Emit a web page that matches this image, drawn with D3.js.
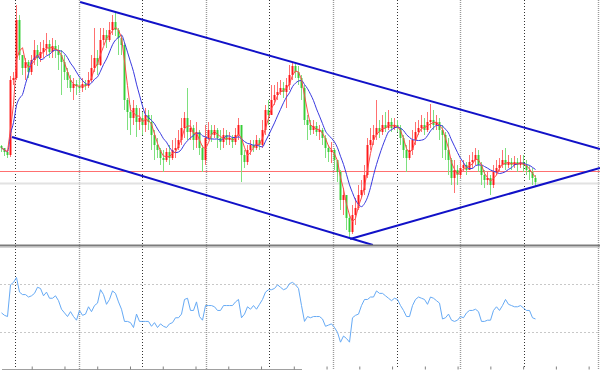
<!DOCTYPE html>
<html>
<head>
<meta charset="utf-8">
<script src="https://cdn.jsdelivr.net/npm/d3@7/dist/d3.min.js"></script>
<style>
  body { margin: 0; background: #fff; }
  svg { display: block; }
</style>
</head>
<body>
<svg id="chart" width="600" height="370"></svg>
<script>
// price data, one entry per bar (open = previous close)
const firstOpen = 104;
const closes = [102,98,95,170,172,230,195,182,188,178,190,200,192,198,202,206,198,204,200,195,
  188,178,170,162,166,164,162,166,164,170,182,192,185,210,215,210,220,228,220,212,
  205,150,138,132,142,128,132,125,135,128,115,105,100,92,90,98,92,100,102,110,
  122,132,118,122,110,118,102,90,112,120,115,120,112,108,115,110,112,108,115,125,
  95,88,100,105,102,110,105,120,140,135,150,155,158,162,158,165,175,184,178,172,
  162,130,125,120,124,118,120,112,102,98,100,90,78,50,55,32,18,35,42,55,
  60,75,105,110,115,122,118,125,122,128,122,125,122,112,100,92,100,110,118,122,
  125,120,128,130,125,128,120,115,100,90,72,80,75,82,85,80,88,90,95,85,
  75,70,72,65,78,82,85,90,85,88,85,88,85,88,85,80,78,72,68];
const highs = [105,102,100,174,178,245,235,195,192,190,195,210,205,208,210,217,210,212,210,205,
  200,195,182,175,172,170,172,172,170,178,195,222,200,222,222,220,228,235,238,222,
  215,208,152,145,150,145,142,138,142,140,135,120,112,102,100,102,105,110,112,120,
  132,138,162,130,125,128,120,105,125,128,125,125,122,120,122,120,118,115,122,132,
  122,100,105,110,110,115,112,130,145,150,165,165,168,170,168,172,185,188,186,184,
  175,165,135,130,130,128,125,122,115,105,108,102,90,80,62,55,35,45,52,65,
  70,85,112,122,125,150,130,135,138,140,132,132,130,125,115,105,110,120,128,130,
  135,132,138,146,140,135,132,125,118,112,92,90,85,90,90,88,95,98,102,100,
  88,80,78,75,85,90,92,100,102,95,92,94,92,95,95,90,85,82,75];
const lows = [98,94,92,93,165,170,190,175,170,172,175,185,184,188,192,195,192,192,192,180,
  155,170,162,158,150,155,158,158,160,162,168,178,175,184,205,202,208,215,214,195,
  195,140,120,115,125,113,120,115,118,120,100,90,92,85,78,88,85,90,92,100,
  105,112,110,110,100,102,95,78,85,110,108,112,102,100,102,105,105,102,105,110,
  68,82,85,95,98,100,100,102,115,125,140,145,150,155,152,142,160,170,172,165,
  150,125,110,115,116,114,110,105,92,88,87,80,68,40,35,20,12,16,25,40,
  52,55,72,100,105,110,112,115,118,120,118,120,118,105,92,78,90,95,105,115,
  118,115,118,122,120,120,110,92,90,75,65,57,65,72,78,75,80,82,85,78,
  65,62,65,55,62,75,78,82,80,82,80,82,78,82,78,75,70,65,64];
// RSI(14)
const rsiValues = [46,44,43,69,71,75,63,61,61,59,60,62,67,66,60,63,58,58,60,56,
  49,46,43,47,43,40,48,44,45,51,47,52,54,65,61,53,57,64,62,55,
  49,39,39,38,34,45,39,39,39,39,35,38,34,37,35,34,37,38,42,42,
  45,57,58,48,48,55,43,40,52,52,52,51,48,48,52,52,52,52,55,57,
  42,45,51,49,52,49,53,57,63,65,65,66,69,67,65,66,70,71,69,66,
  52,39,43,42,43,43,43,41,35,36,37,34,30,22,27,25,22,42,44,45,
  52,57,57,59,59,64,62,62,60,58,56,58,57,52,48,43,43,52,57,59,
  58,57,53,59,58,56,54,41,42,45,40,39,40,43,42,46,48,48,49,47,
  39,39,40,40,48,51,48,52,57,53,52,51,51,52,50,48,48,42,41];

const maFastPeriod = 3;
const maSlowPeriod = 8;
const rsiLevels = [70, 30];
// vertical period separators, in bar units
const gridBars = [4.6, 25.8, 47, 68.2, 89.3, 110.5, 131.7, 152.8, 174, 198.8];
// horizontal price lines
const priceLines = [
  { price: 78.5, color: "#ff7070", size: 1 },
  { price: 66.5, color: "#e2e2e2", size: 2 },
];
// drawn trend lines: [bar1, price1, bar2, price2]
const trendLines = [
  [26.2, 248, 199.5, 101],
  [3.5, 113, 123.8, 5],
  [116.2, 11, 199.5, 82],
];

var svg = d3.select("#chart");
var width = 600;
var mainBottom = 245;
var rsiTop = 247;
var rsiBottom = 369;

var x = d3.scaleLinear().domain([0, 100]).range([1.5, 301.5]);
var y = d3.scaleLinear().domain([0, 250]).range([250, 0]);
var yRsi = d3.scaleLinear().domain([0, 100]).range([rsiBottom, rsiTop]);

// build bars
var bars = closes.map((c, i) => {
  let o = i == 0 ? firstOpen : closes[i - 1];
  return {
    i: i,
    open: o,
    close: c,
    high: Math.max(highs[i], o, c),
    low: Math.min(lows[i], o, c),
  };
});

movingAverage = (period) => {
  return closes.map((c, i) => {
    let from = Math.max(0, i - period + 1);
    return { i: i, value: d3.mean(closes.slice(from, i + 1)) };
  });
};

svg.append("defs")
  .append("clipPath")
  .attr("id", "main-clip")
  .append("rect")
  .attr("x", 0)
  .attr("y", 0)
  .attr("width", width)
  .attr("height", mainBottom);

// grid
svg.append("g")
  .attr("class", "grid")
  .selectAll("line")
  .data(gridBars)
  .join("line")
  .attr("x1", (d) => Math.round(x(d)) + 0.5)
  .attr("x2", (d) => Math.round(x(d)) + 0.5)
  .attr("y1", 0)
  .attr("y2", rsiBottom)
  .attr("stroke", (d, i) => (i % 2 == 0 ? "#333" : "#9a9a9a"))
  .attr("stroke-width", (d, i) => (i % 2 == 0 ? 1 : 1.4))
  .attr("stroke-dasharray", (d, i) => (i % 2 == 0 ? "1,2" : "1,1"));

var main = svg.append("g").attr("clip-path", "url(#main-clip)");

// price level lines as thin filled strips
main.selectAll(".price-line")
  .data(priceLines)
  .join("rect")
  .attr("class", "price-line")
  .attr("x", 0)
  .attr("width", width)
  .attr("y", (d) => y(d.price) - d.size / 2)
  .attr("height", (d) => d.size)
  .attr("fill", (d) => d.color);

var upColor = "#ff1010";
var downColor = "#2fcb2f";

var candle = main.append("g").attr("class", "candles")
  .selectAll("g")
  .data(bars)
  .join("g");

candle.append("line")
  .attr("x1", (d) => x(d.i))
  .attr("x2", (d) => x(d.i))
  .attr("y1", (d) => y(d.high))
  .attr("y2", (d) => y(d.low))
  .attr("stroke", (d) => (d.close >= d.open ? "#ff7070" : "#7ee07e"))
  .attr("stroke-width", 1);

candle.append("rect")
  .attr("x", (d) => x(d.i) - 1)
  .attr("width", 2)
  .attr("y", (d) => y(Math.max(d.open, d.close)))
  .attr("height", (d) => Math.max(1, Math.abs(y(d.open) - y(d.close))))
  .attr("fill", (d) => (d.close >= d.open ? upColor : downColor))
  .attr("opacity", 0.9);

var maLine = d3.line()
  .x((d) => x(d.i))
  .y((d) => y(d.value));

main.append("path")
  .datum(movingAverage(maSlowPeriod))
  .attr("d", maLine.curve(d3.curveMonotoneX))
  .attr("fill", "none")
  .attr("stroke", "#3a3ae0")
  .attr("stroke-width", 1);

main.append("path")
  .datum(movingAverage(maFastPeriod))
  .attr("d", maLine.curve(d3.curveLinear))
  .attr("fill", "none")
  .attr("stroke", "#ff4a4a")
  .attr("stroke-width", 1);

main.selectAll(".trend")
  .data(trendLines)
  .join("line")
  .attr("class", "trend")
  .attr("x1", (d) => x(d[0]))
  .attr("y1", (d) => y(d[1]))
  .attr("x2", (d) => x(d[2]))
  .attr("y2", (d) => y(d[3]))
  .attr("stroke", "#1111c8")
  .attr("stroke-width", 2);

// pane separator
svg.append("line")
  .attr("x1", 0).attr("x2", width)
  .attr("y1", 245.5).attr("y2", 245.5)
  .attr("stroke", "#7c7c7c")
  .attr("stroke-width", 2);
svg.append("line")
  .attr("x1", 0).attr("x2", width)
  .attr("y1", 247.5).attr("y2", 247.5)
  .attr("stroke", "#d4d4d4")
  .attr("stroke-width", 1);

// RSI pane
svg.append("g")
  .selectAll("line")
  .data(rsiLevels)
  .join("line")
  .attr("x1", 0)
  .attr("x2", width)
  .attr("y1", (d) => Math.round(yRsi(d)) + 0.5)
  .attr("y2", (d) => Math.round(yRsi(d)) + 0.5)
  .attr("stroke", "#c8c8c8")
  .attr("stroke-dasharray", "2,2");

svg.append("path")
  .datum(rsiValues)
  .attr("d", d3.line().x((d, i) => x(i)).y((d) => yRsi(d)))
  .attr("fill", "none")
  .attr("stroke", "#66aaf5")
  .attr("stroke-width", 1);

// time axis along the bottom
var timeAxis = d3.axisTop(x)
  .tickValues(d3.range(10.07, 200, 10.92))
  .tickSize(3)
  .tickSizeOuter(0)
  .tickFormat("");

var axisG = svg.append("g")
  .attr("transform", `translate(0, ${rsiBottom + 0.5})`)
  .call(timeAxis);
axisG.select(".domain").attr("stroke", "#808080").attr("stroke-width", 1.5);
axisG.selectAll(".tick line").attr("stroke", "#808080");
</script>
</body>
</html>
